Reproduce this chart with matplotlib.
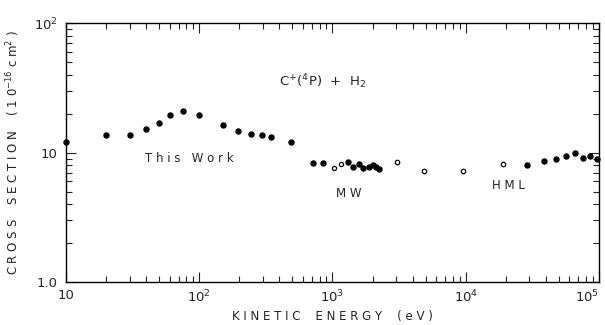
import matplotlib
matplotlib.use("Agg")
import matplotlib.pyplot as plt
from matplotlib.ticker import LogLocator, NullFormatter, FixedLocator

plt.rcParams['font.family'] = ['DejaVu Sans']

# This work (filled)
tw_E = [10, 20, 30, 40, 50, 60, 75, 100, 150, 195, 245, 295, 345, 490]
tw_s = [12.1, 13.6, 13.6, 15.1, 16.9, 19.5, 21.0, 19.4, 16.4, 14.8, 14.0, 13.6, 13.2, 12.0]

# MW (filled)
mw_E = [710, 853, 1300, 1419, 1573, 1686, 1879, 2004, 2120, 2245]
mw_s = [8.34, 8.34, 8.45, 7.77, 8.20, 7.63, 7.77, 7.96, 7.77, 7.50]

# MW (open)
mwo_E = [1031, 1152]
mwo_s = [7.63, 8.20]

# other (open)
op_E = [3033, 4864, 9484, 18930]
op_s = [8.49, 7.23, 7.16, 8.20]

# HML (filled)
hml_E = [28650, 38470, 47550, 56520, 66400, 75500, 85550, 96100]
hml_s = [7.96, 8.60, 8.96, 9.40, 9.86, 9.12, 9.40, 8.86]

x_ticks = [10, 100, 1000, 1e4, 1e5]
x_labels = ['10', '10$^2$', '10$^3$', '10$^4$', '10$^5$']
y_ticks = [1, 10, 100]
y_labels = ['1.0', '10', '10$^2$']

fig = plt.figure(figsize=(6.05, 3.25), dpi=100)
ax = fig.add_axes([0.109, 0.132, 0.881, 0.797])

ax.plot(tw_E, tw_s, 'o', color='black', markersize=3.6, clip_on=False)
ax.plot(mw_E, mw_s, 'o', color='black', markersize=3.6, clip_on=False)
ax.plot(hml_E, hml_s, 'o', color='black', markersize=3.6, clip_on=False)
ax.plot(mwo_E, mwo_s, 'o', mfc='white', mec='black', mew=0.9, markersize=3.0)
ax.plot(op_E, op_s, 'o', mfc='white', mec='black', mew=0.9, markersize=3.2)

ax.set_xscale('log')
ax.set_yscale('log')
ax.set_xlim(10, 1e5)
ax.set_ylim(1, 100)

ax.xaxis.set_major_locator(FixedLocator(x_ticks))
ax.set_xticklabels(x_labels)
ax.xaxis.set_minor_locator(LogLocator(base=10, subs=range(2, 10)))
ax.xaxis.set_minor_formatter(NullFormatter())
ax.yaxis.set_major_locator(FixedLocator(y_ticks))
ax.set_yticklabels(y_labels)
ax.yaxis.set_minor_locator(LogLocator(base=10, subs=range(2, 10)))
ax.yaxis.set_minor_formatter(NullFormatter())

ax.tick_params(which='both', direction='in', top=True, right=True, width=0.8,
               labelsize=9.5, colors='#222222')
ax.tick_params(which='major', length=7)
ax.tick_params(axis='x', which='major', pad=5)
ax.tick_params(axis='y', which='major', pad=6)
ax.tick_params(which='minor', length=4)
ax.get_xticklabels()[-1].set_horizontalalignment('right')
for s in ax.spines.values():
    s.set_linewidth(1.0)

ax.set_xlabel('K I N E T I C    E N E R G Y    ( e V )', fontsize=8.5, labelpad=3, color='#222222')
ax.set_ylabel('C R O S S    S E C T I O N    ( 1 0$^{-16}$ c m$^2$ )', fontsize=8.5, color='#222222')
ax.yaxis.set_label_coords(-0.083, 0.5)

ax.text(84, 9.06, 'T h i s   W o r k', fontsize=8.5, ha='center', va='center', color='#222222')
ax.text(1330, 4.87, 'M W', fontsize=8.5, ha='center', va='center', color='#222222')
ax.text(21100, 5.61, 'H M L', fontsize=8.5, ha='center', va='center', color='#222222')
ax.text(850, 35, 'C$^{+}$($^{4}$P)  +  H$_2$', fontsize=9.5, ha='center', va='center', color='#222222')

fig.savefig('out.png', dpi=100)
